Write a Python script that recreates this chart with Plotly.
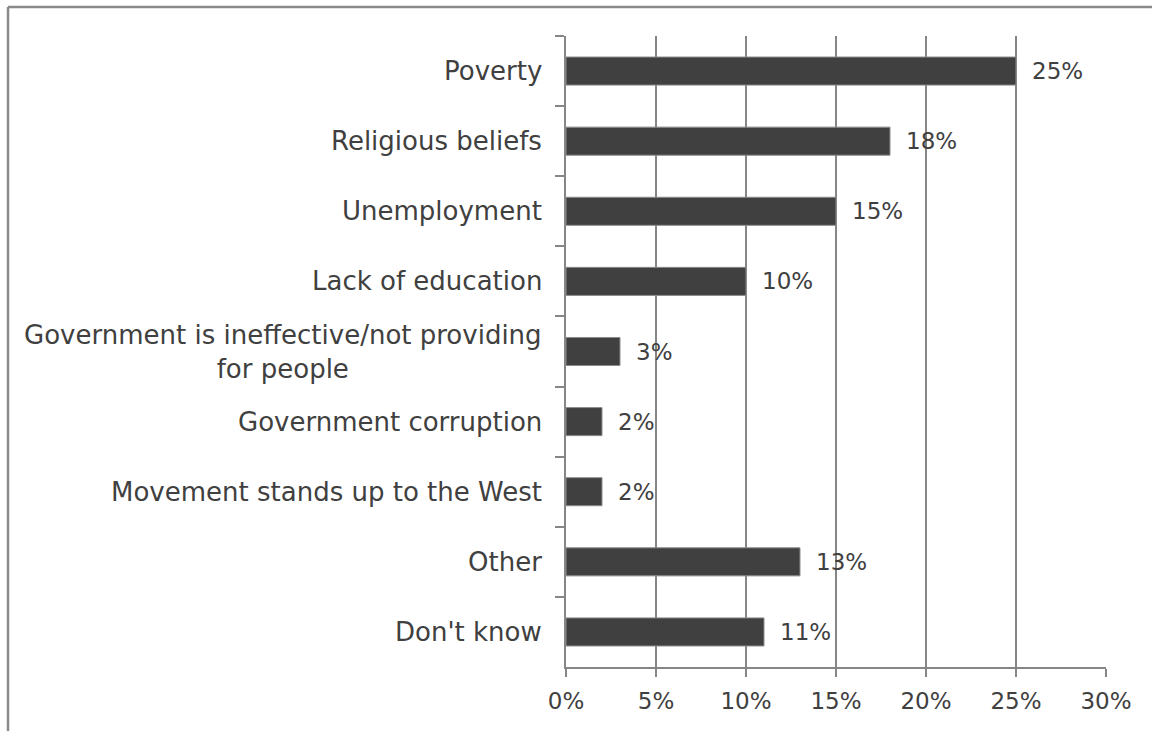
import plotly.graph_objects as go

# Survey responses: reasons people join the movement
categories = [
    "Poverty",
    "Religious beliefs",
    "Unemployment",
    "Lack of education",
    "Government is ineffective/not providing<br>for people",
    "Government corruption",
    "Movement stands up to the West",
    "Other",
    "Don't know",
]
shares = [25, 18, 15, 10, 3, 2, 2, 13, 11]
x_ticks = [0, 5, 10, 15, 20, 25, 30]
x_tick_labels = [f"{t}%" for t in x_ticks]

TEXT = "#404040"
BAR = "#404040"
GRID = "#868686"
FONT = "DejaVu Sans"

fig = go.Figure(
    go.Bar(
        x=shares,
        y=categories,
        orientation="h",
        marker=dict(color=BAR, line=dict(color="#8c8c8c", width=1)),
        hoverinfo="skip",
    )
)

# Category labels (wrapped lines are centred)
for cat in categories:
    fig.add_annotation(
        x=0, xref="paper", y=cat, yref="y",
        text=cat, showarrow=False,
        xanchor="right", yanchor="middle", align="center",
        xshift=-22,
        font=dict(family=FONT, size=26, color=TEXT),
    )

# Value labels just past each bar end
for cat, v in zip(categories, shares):
    fig.add_annotation(
        x=v, xref="x", y=cat, yref="y",
        text=f"{v}%", showarrow=False,
        xanchor="left", yanchor="middle",
        xshift=14,
        font=dict(family=FONT, size=23, color=TEXT),
    )

# Outer frame: top and left edges of the chart box
fig.add_shape(type="line", xref="paper", yref="paper",
              x0=-1.0333, x1=1.2, y0=1.046, y1=1.046,
              line=dict(color="#8a8a8a", width=2.5))
fig.add_shape(type="line", xref="paper", yref="paper",
              x0=-1.0333, x1=-1.0333, y0=1.046, y1=-0.2,
              line=dict(color="#8a8a8a", width=2.5))

fig.update_layout(
    width=1152,
    height=731,
    margin=dict(l=566, r=46, t=36, b=64),
    paper_bgcolor="white",
    plot_bgcolor="white",
    bargap=0.6,
    showlegend=False,
    font=dict(family=FONT, size=23, color=TEXT),
    xaxis=dict(
        range=[0, 30],
        tickvals=x_ticks,
        ticktext=x_tick_labels,
        showgrid=True,
        gridcolor=GRID,
        gridwidth=1.5,
        showline=True,
        linecolor=GRID,
        linewidth=2,
        ticks="outside",
        ticklen=8,
        tickwidth=2,
        tickcolor=GRID,
        zeroline=False,
        tickfont=dict(family=FONT, size=23, color=TEXT),
        ticklabelstandoff=4,
        fixedrange=True,
        layer="below traces",
    ),
    yaxis=dict(
        type="category",
        categoryorder="array",
        categoryarray=categories,
        autorange="reversed",
        showticklabels=False,
        tickson="boundaries",
        ticks="outside",
        ticklen=9,
        tickwidth=2,
        tickcolor=GRID,
        showline=True,
        linecolor=GRID,
        linewidth=2,
        showgrid=False,
        zeroline=False,
        fixedrange=True,
    ),
)

fig.write_html("out.html", config={"displayModeBar": False})
